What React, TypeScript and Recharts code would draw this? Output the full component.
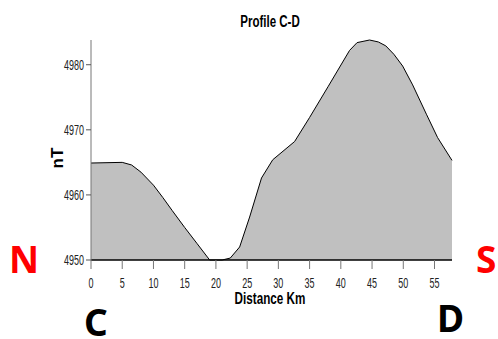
import React from "react"
import { AreaChart, Area, XAxis, YAxis } from "recharts"

// profile C-D
const distanceKm = [0, 5, 6.5, 8, 10, 11.5, 13, 15, 17, 19, 21, 22.3, 23.8, 25.4, 27.3, 29.1, 32.6, 35, 38, 41.4, 42.6, 44.6, 46, 47.2, 48.5, 49.9, 51.5, 53.7, 55.5, 57.8]
const fieldNT = [4964.9, 4965, 4964.6, 4963.5, 4961.5, 4959.6, 4957.6, 4955.0, 4952.5, 4950, 4950, 4950.3, 4952, 4956.6, 4962.6, 4965.4, 4968.2, 4971.9, 4976.7, 4982.2, 4983.4, 4983.8, 4983.5, 4982.9, 4981.6, 4979.8, 4976.9, 4972.4, 4968.8, 4965.3]
const xTicks = [0, 5, 10, 15, 20, 25, 30, 35, 40, 45, 50, 55]
const yTicks = [4950, 4960, 4970, 4980]

const profileData = distanceKm.map((km, i) => ({ km, nT: fieldNT[i] }))

const narrowFont = "'Liberation Sans', Arial, sans-serif"

const XTick = ({ x, y, payload }: any) => (
    <g transform={`translate(${x},${y})`}>
        <text transform="scale(0.6,1)" textAnchor="middle" y={17} fontSize={15} fontFamily={narrowFont} fill="#222">
            {payload.value}
        </text>
    </g>
)

const YTick = ({ x, y, payload }: any) => (
    <g transform={`translate(${x},${y})`}>
        <text transform="scale(0.6,1)" textAnchor="end" y={5} fontSize={15} fontFamily={narrowFont} fill="#222">
            {payload.value}
        </text>
    </g>
)

const abs = (style: React.CSSProperties): React.CSSProperties => ({ position: "absolute", whiteSpace: "nowrap", lineHeight: 1, ...style })
const bigFont = "'Noto Sans', sans-serif"

export default function App() {
    return (
        <div style={{ position: "absolute", left: 0, top: 0, width: 498, height: 339, background: "#fff", overflow: "hidden" }}>
            <AreaChart width={498} height={339} data={profileData} margin={{ top: 40, right: 46, bottom: 49, left: 51 }}>
                <XAxis
                    dataKey="km"
                    type="number"
                    domain={[0, 57.8]}
                    ticks={xTicks}
                    height={30}
                    tickSize={9}
                    tick={<XTick />}
                    axisLine={{ stroke: "#000", strokeWidth: 1.5 }}
                    tickLine={{ stroke: "#777" }}
                />
                <YAxis
                    type="number"
                    domain={[4950, 4983.8]}
                    ticks={yTicks}
                    width={40}
                    tickSize={5}
                    tick={<YTick />}
                    axisLine={{ stroke: "#777" }}
                    tickLine={{ stroke: "#555" }}
                />
                <Area
                    type="linear"
                    dataKey="nT"
                    stroke="#000"
                    strokeWidth={1}
                    fill="#c0c0c0"
                    fillOpacity={1}
                    isAnimationActive={false}
                />
            </AreaChart>

            <div style={abs({ left: 270, top: 14, transform: "translateX(-50%) scaleX(0.72)", fontFamily: narrowFont, fontWeight: 700, fontSize: 16 })}>
                Profile C-D
            </div>
            <div style={abs({ left: 270, top: 291, transform: "translateX(-50%) scaleX(0.73)", fontFamily: narrowFont, fontWeight: 700, fontSize: 16 })}>
                Distance Km
            </div>
            <div style={abs({ left: 57, top: 158, transform: "translate(-50%,-50%) rotate(-90deg)", fontFamily: narrowFont, fontWeight: 700, fontSize: 17 })}>
                nT
            </div>

            <div style={abs({ left: 9, top: 240, fontFamily: bigFont, fontWeight: 700, fontSize: 37, color: "#ff0000" })}>N</div>
            <div style={abs({ left: 476, top: 240, fontFamily: bigFont, fontWeight: 700, fontSize: 37, color: "#ff0000" })}>S</div>
            <div style={abs({ left: 84, top: 303, fontFamily: bigFont, fontWeight: 700, fontSize: 37, color: "#000" })}>C</div>
            <div style={abs({ left: 437, top: 299, fontFamily: bigFont, fontWeight: 700, fontSize: 37, color: "#000" })}>D</div>
        </div>
    )
}
